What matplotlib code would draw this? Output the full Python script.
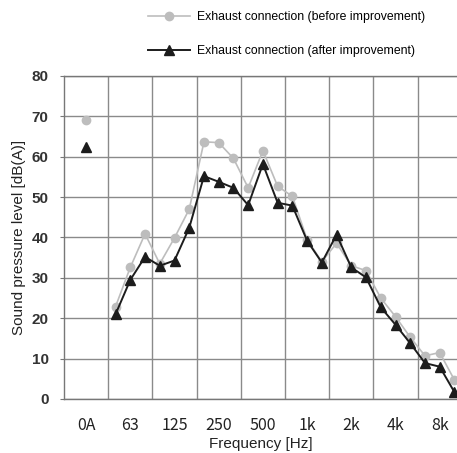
import matplotlib.pyplot as plt
import numpy as np

# 1/3 octave bands 50 Hz .. 10 kHz, plus overall (OA)
bands = ["50", "63", "80", "100", "125", "160", "200", "250", "315", "400",
         "500", "630", "800", "1k", "1.25k", "1.6k", "2k", "2.5k", "3.15k",
         "4k", "5k", "6.3k", "8k", "10k"]
oa_before = 69.0
oa_after = 62.3
before = [22.9, 32.6, 40.9, 33.5, 39.9, 47.0, 63.7, 63.5, 59.6, 52.3,
          61.5, 52.7, 50.2, 39.5, 34.0, 38.6, 33.0, 31.8, 25.0, 20.4,
          15.3, 10.7, 11.5, 4.7]
after = [21.0, 29.5, 35.2, 33.0, 34.3, 42.4, 55.2, 53.8, 52.3, 48.0,
         58.2, 48.6, 47.9, 39.2, 33.8, 40.7, 32.6, 30.1, 22.7, 18.4,
         13.8, 8.9, 8.0, 1.7]
octave_labels = ["0A", "63", "125", "250", "500", "1k", "2k", "4k", "8k"]

label_before = "Exhaust connection (before improvement)"
label_after = "Exhaust connection (after improvement)"

# x in "octave cell" units: cell k spans [k, k+1], 63 Hz at centre of cell 1
x = 1.5 + (np.arange(len(bands)) - 1) / 3.0

fig = plt.figure(figsize=(4.57, 4.53), dpi=100)
ax = fig.add_axes([64/457, 1 - 399/453, 1 - 64/457, (399 - 76)/453])

gray = '#bdbdbd'
dark = '#1c1c1c'

l1, = ax.plot(x, before, color=gray, lw=1.2, marker='o', ms=6,
              markeredgecolor=gray, label=label_before, zorder=3)
l2, = ax.plot(x, after, color=dark, lw=1.4, marker='^', ms=7.5,
              markeredgecolor=dark, label=label_after, zorder=4)
ax.plot([0.5], [oa_before], color=gray, marker='o', ms=6, ls='none', zorder=3)
ax.plot([0.5], [oa_after], color=dark, marker='^', ms=7.5, ls='none', zorder=4)

ax.set_xlim(0, (457 - 64) / 44.2)
ax.set_ylim(0, 80)

ax.set_xticks(np.arange(len(octave_labels)) + 0.5)
ax.set_xticklabels(octave_labels, family=['Noto Sans CJK JP', 'DejaVu Sans'],
                   fontsize=11.5, color='#222222')
ax.set_xticks(np.arange(1, 9), minor=True)
ax.tick_params(axis='x', which='both', length=0, pad=13)
ax.set_yticks(np.arange(0, 81, 10))
ax.set_yticklabels([str(v) for v in range(0, 81, 10)],
                   family='Liberation Sans', fontweight='bold', fontsize=11,
                   color='#333333')
ax.tick_params(axis='y', length=3, color='#777777', pad=8)

ax.grid(True, which='minor', axis='x', color='#8a8a8a', lw=1.0)
ax.grid(True, which='major', axis='y', color='#8a8a8a', lw=1.0)
ax.set_axisbelow(True)
for s in ['left', 'top', 'bottom']:
    ax.spines[s].set_color('#777777')
    ax.spines[s].set_linewidth(1.0)
ax.spines['right'].set_visible(False)

ax.set_xlabel("Frequency [Hz]", family='Liberation Sans', fontsize=11,
              labelpad=2, color='#222222')
ax.set_ylabel("Sound pressure level [dB(A)]", family='Liberation Sans',
              fontsize=11, labelpad=4, color='#222222')

fig.legend(handles=[l1, l2], loc='upper left',
           bbox_to_anchor=(148/457, 1 - 11/453), frameon=False,
           prop={'family': 'Liberation Sans', 'size': 8.8},
           handlelength=3.4, handletextpad=0.6, labelspacing=1.8,
           borderpad=0, borderaxespad=0)

fig.savefig('out.png', dpi=100)
